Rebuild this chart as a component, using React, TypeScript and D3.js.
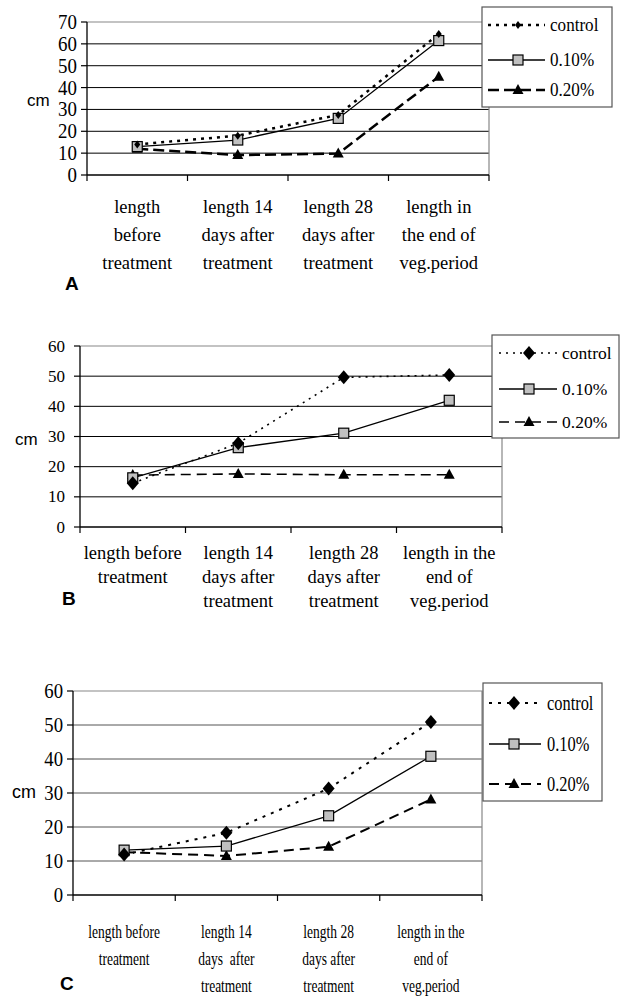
import React, { useEffect, useRef } from "react";
import * as d3 from "d3";

// series names
const seriesNames = ["control", "0.10%", "0.20%"];

// panel A
const categoriesA = [
  ["length", "before", "treatment"],
  ["length 14", "days after", "treatment"],
  ["length 28", "days after", "treatment"],
  ["length in", "the end of", "veg.period"],
];
const controlA = [14, 18, 27.5, 64.5];
const pct010A = [13, 16, 25.9, 61.5];
const pct020A = [12, 9.1, 9.8, 45];
const yTicksA = [0, 10, 20, 30, 40, 50, 60, 70];

// panel B
const categoriesB = [
  ["length before", "treatment"],
  ["length 14", "days after", "treatment"],
  ["length 28", "days after", "treatment"],
  ["length in the", "end of", "veg.period"],
];
const controlB = [14.5, 27.8, 49.6, 50.4];
const pct010B = [16.3, 26.3, 31.1, 42];
const pct020B = [17.2, 17.6, 17.3, 17.3];
const yTicksB = [0, 10, 20, 30, 40, 50, 60];

// panel C
const categoriesC = [
  ["length before", "treatment"],
  ["length 14", "days  after", "treatment"],
  ["length 28", "days after", "treatment"],
  ["length in the", "end of", "veg.period"],
];
const controlC = [11.9, 18.3, 31.3, 50.9];
const pct010C = [13.2, 14.4, 23.3, 40.8];
const pct020C = [12.6, 11.5, 14.2, 28.1];
const yTicksC = [0, 10, 20, 30, 40, 50, 60];

const SERIF = "'Liberation Serif', 'Times New Roman', serif";
const SANS = "'Liberation Sans', Arial, sans-serif";

const panels = [
  {
    letter: "A", letterX: 65, letterY: 290,
    cats: categoriesA, series: [controlA, pct010A, pct020A], ticks: yTicksA,
    x0: 87, x1: 489, yBottom: 175, yTop: 22,
    gridColor: "#000", tickFont: 21, tickGap: 10, tickSquash: 0.9,
    labelFont: 18.5, labelOffset: 38, labelGap: 28, labelSquash: 1,
    cmX: 27, cmY: 106, cmFont: 17,
    legend: { x: 482, y: 7, w: 130, h: 100, rows: [25, 60, 90], lx0: 488, lx1: 545, mx: 518, tx: 550, font: 19, squash: 0.9 },
    diamond: 3, dots: "3,5", dotW: 2.5, dash: "11,5", dashW: 2.5,
  },
  {
    letter: "B", letterX: 62, letterY: 605,
    cats: categoriesB, series: [controlB, pct010B, pct020B], ticks: yTicksB,
    x0: 80, x1: 502, yBottom: 527, yTop: 346,
    gridColor: "#000", tickFont: 17, tickGap: 15, tickSquash: 1,
    labelFont: 18.5, labelOffset: 32, labelGap: 24, labelSquash: 1,
    cmX: 15, cmY: 445, cmFont: 17,
    legend: { x: 492, y: 335, w: 127, h: 103, rows: [353, 389, 422], lx0: 499, lx1: 557, mx: 529, tx: 562, font: 17.5, squash: 1 },
    diamond: 6, dots: "2,5", dotW: 1.6, dash: "10,6", dashW: 1.6,
  },
  {
    letter: "C", letterX: 60, letterY: 990,
    cats: categoriesC, series: [controlC, pct010C, pct020C], ticks: yTicksC,
    x0: 73, x1: 482, yBottom: 895, yTop: 691,
    gridColor: "#555", tickFont: 22, tickGap: 10, tickSquash: 0.85,
    labelFont: 18, labelOffset: 43, labelGap: 27, labelSquash: 0.75,
    cmX: 12, cmY: 798, cmFont: 18,
    legend: { x: 483, y: 683, w: 119, h: 118, rows: [703, 744, 784], lx0: 489, lx1: 541, mx: 514, tx: 547, font: 20, squash: 0.82 },
    diamond: 6, dots: "3,6", dotW: 2, dash: "10,6", dashW: 2,
  },
];

function drawMarker(g, kind, x, y, size) {
  if (kind === 0) {
    g.append("path")
      .attr("d", `M${x},${y - size - 1}L${x + size},${y}L${x},${y + size + 1}L${x - size},${y}Z`)
      .attr("fill", "#000");
  } else if (kind === 1) {
    g.append("rect")
      .attr("x", x - 5).attr("y", y - 5)
      .attr("width", 10).attr("height", 10)
      .attr("fill", "#c0c0c0").attr("stroke", "#000").attr("stroke-width", 1.2);
  } else {
    g.append("path")
      .attr("d", `M${x},${y - 6}L${x + 5.5},${y + 4}L${x - 5.5},${y + 4}Z`)
      .attr("fill", "#000");
  }
}

const App = () => {
  const svgRef = useRef(null);

  useEffect(() => {
    const svg = d3.select(svgRef.current);
    svg.selectAll("*").remove();

    panels.forEach((p) => {
      const g = svg.append("g");
      const yMax = p.ticks[p.ticks.length - 1];

      const xScale = d3.scaleBand().domain(d3.range(p.cats.length)).range([p.x0, p.x1]);
      const yScale = d3.scaleLinear().domain([0, yMax]).range([p.yBottom, p.yTop]);

      // gridlines
      p.ticks.slice(1, -1).forEach((t) => {
        g.append("line")
          .attr("x1", p.x0).attr("x2", p.x1)
          .attr("y1", yScale(t)).attr("y2", yScale(t))
          .attr("stroke", p.gridColor).attr("stroke-width", 1);
      });
      // frame top & right
      g.append("path")
        .attr("d", `M${p.x0},${yScale(yMax)}H${p.x1}V${p.yBottom}`)
        .attr("fill", "none").attr("stroke", "#888").attr("stroke-width", 1.2);

      // y axis
      g.append("line")
        .attr("x1", p.x0).attr("x2", p.x0)
        .attr("y1", yScale(yMax)).attr("y2", p.yBottom)
        .attr("stroke", "#000").attr("stroke-width", 1.3);
      p.ticks.forEach((t) => {
        g.append("line")
          .attr("x1", p.x0 - 6).attr("x2", p.x0)
          .attr("y1", yScale(t)).attr("y2", yScale(t))
          .attr("stroke", "#000").attr("stroke-width", 1.2);
        g.append("text")
          .attr("transform", `translate(${p.x0 - p.tickGap},${yScale(t) + p.tickFont * 0.33}) scale(${p.tickSquash},1)`)
          .attr("text-anchor", "end")
          .attr("font-family", SERIF)
          .attr("font-size", p.tickFont)
          .text(t);
      });

      // x axis
      g.append("line")
        .attr("x1", p.x0).attr("x2", p.x1)
        .attr("y1", p.yBottom).attr("y2", p.yBottom)
        .attr("stroke", "#000").attr("stroke-width", 1.3);
      d3.range(p.cats.length + 1).forEach((i) => {
        const x = i < p.cats.length ? xScale(i) : p.x1;
        g.append("line")
          .attr("x1", x).attr("x2", x)
          .attr("y1", p.yBottom).attr("y2", p.yBottom + 6)
          .attr("stroke", "#000").attr("stroke-width", 1.2);
      });
      p.cats.forEach((lines, i) => {
        const cx = xScale(i) + xScale.bandwidth() / 2;
        lines.forEach((ln, j) => {
          g.append("text")
            .attr("transform", `translate(${cx},${p.yBottom + p.labelOffset + j * p.labelGap}) scale(${p.labelSquash},1)`)
            .attr("text-anchor", "middle")
            .attr("font-family", SERIF)
            .attr("font-size", p.labelFont)
            .style("white-space", "pre")
            .text(ln);
        });
      });

      // cm label
      g.append("text")
        .attr("x", p.cmX).attr("y", p.cmY)
        .attr("font-family", SANS).attr("font-size", p.cmFont)
        .text("cm");

      // panel letter
      g.append("text")
        .attr("x", p.letterX).attr("y", p.letterY)
        .attr("font-family", SANS).attr("font-size", 19).attr("font-weight", "bold")
        .text(p.letter);

      const styles = [
        { dash: p.dots, w: p.dotW },
        { dash: null, w: 1.3 },
        { dash: p.dash, w: p.dashW },
      ];

      // series lines
      const line = d3.line()
        .x((d, i) => xScale(i) + xScale.bandwidth() / 2)
        .y((d) => yScale(d));

      [2, 1, 0].forEach((k) => {
        g.append("path")
          .datum(p.series[k])
          .attr("fill", "none")
          .attr("stroke", "#000")
          .attr("stroke-width", styles[k].w)
          .attr("stroke-dasharray", styles[k].dash)
          .attr("d", line);
      });
      [2, 1, 0].forEach((k) => {
        p.series[k].forEach((v, i) => {
          const x = xScale(i) + xScale.bandwidth() / 2;
          drawMarker(g, k, x, yScale(v), p.diamond);
        });
      });

      // legend
      const L = p.legend;
      g.append("rect")
        .attr("x", L.x).attr("y", L.y).attr("width", L.w).attr("height", L.h)
        .attr("fill", "#fff").attr("stroke", "#555").attr("stroke-width", 1.2);
      seriesNames.forEach((name, k) => {
        const ry = L.rows[k];
        g.append("line")
          .attr("x1", L.lx0).attr("x2", L.lx1)
          .attr("y1", ry).attr("y2", ry)
          .attr("stroke", "#000")
          .attr("stroke-width", styles[k].w)
          .attr("stroke-dasharray", styles[k].dash);
        drawMarker(g, k, L.mx, ry, p.diamond);
        g.append("text")
          .attr("transform", `translate(${L.tx},${ry + L.font * 0.33}) scale(${L.squash},1)`)
          .attr("font-family", SERIF)
          .attr("font-size", L.font)
          .text(name);
      });
    });
  }, []);

  return (
    <svg
      ref={svgRef}
      width={620}
      height={997}
      style={{ position: "absolute", left: 0, top: 0, background: "#fff" }}
    />
  );
};

export default App;
